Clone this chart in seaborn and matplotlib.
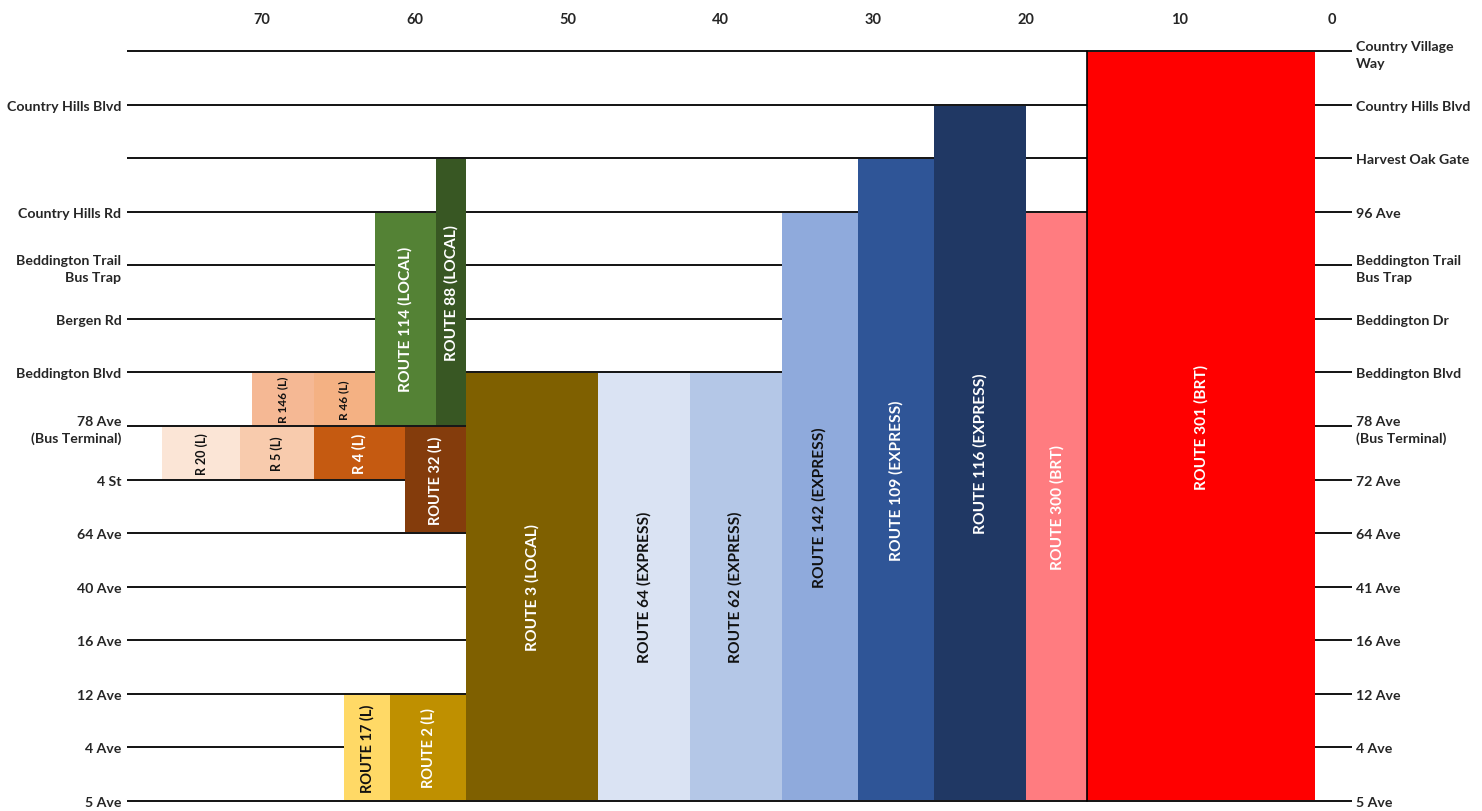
import matplotlib
matplotlib.use("Agg")
import matplotlib.pyplot as plt
import seaborn as sns

# stops, bottom (index 0) to top (index 14)
stops_left = ["5 Ave", "4 Ave", "12 Ave", "16 Ave", "40 Ave", "64 Ave", "4 St",
              "78 Ave\n(Bus Terminal)", "Beddington Blvd", "Bergen Rd",
              "Beddington Trail\nBus Trap", "Country Hills Rd", "",
              "Country Hills Blvd", ""]
stops_right = ["5 Ave", "4 Ave", "12 Ave", "16 Ave", "41 Ave", "64 Ave", "72 Ave",
               "78 Ave\n(Bus Terminal)", "Beddington Blvd", "Beddington Dr",
               "Beddington Trail\nBus Trap", "96 Ave", "Harvest Oak Gate",
               "Country Hills Blvd", "Country Village\nWay"]

# routes: x extent and the stops they run between
routes = ["ROUTE 301 (BRT)", "ROUTE 300 (BRT)", "ROUTE 116 (EXPRESS)",
          "ROUTE 109 (EXPRESS)", "ROUTE 142 (EXPRESS)", "ROUTE 62 (EXPRESS)",
          "ROUTE 64 (EXPRESS)", "ROUTE 3 (LOCAL)", "ROUTE 88 (LOCAL)",
          "ROUTE 114 (LOCAL)", "R 46 (L)", "R 146 (L)", "ROUTE 32 (L)",
          "R 4 (L)", "R 5 (L)", "R 20 (L)", "ROUTE 2 (L)", "ROUTE 17 (L)"]
x_from = [1.1, 16, 20, 26, 31, 36, 42, 48, 56.65, 58.6, 62.6, 66.6,
          56.65, 60.6, 66.6, 71.4, 56.65, 61.6]
x_to = [16, 20, 26, 31, 36, 42, 48, 56.65, 58.6, 62.6, 66.6, 70.6,
        60.6, 66.6, 71.4, 76.5, 61.6, 64.6]
stop_from = [0, 0, 0, 0, 0, 0, 0, 0, 7, 7, 7, 7, 5, 6, 6, 6, 0, 0]
stop_to = [14, 11, 13, 12, 11, 8, 8, 8, 12, 11, 8, 8, 7, 7, 7, 7, 2, 2]

colors = ["#FF0000", "#FF7C80", "#203864", "#2F5597", "#8FAADC", "#B4C7E7",
          "#DAE3F3", "#7F6000", "#385723", "#548235", "#F4B183", "#F5B894",
          "#843C0C", "#C55A11", "#F8CBAD", "#FBE5D6", "#BF9000", "#FFD966"]
text_colors = ["white", "white", "white", "white", "#111111", "#111111",
               "#111111", "white", "white", "white", "#111111", "#111111",
               "white", "white", "#111111", "#111111", "white", "#111111"]
text_sizes = [11.2, 11.2, 11.2, 11.2, 11.2, 11.2, 11.2, 11.2, 11.2, 11.2,
              8.5, 8.5, 10.5, 10.5, 9, 9, 10.5, 10.5]

sns.set_theme(style="white")
plt.rcParams["font.family"] = ["Lato", "DejaVu Sans"]
plt.rcParams["font.weight"] = "bold"

fig = plt.figure(figsize=(14.82, 8.12), dpi=100)
ax = fig.add_axes([127 / 1482, 6 / 812, (1352 - 127) / 1482, 758 / 812])

levels = list(range(len(stops_left)))
ax.set_xlim(78.8, -1.3)
ax.set_ylim(-0.075, 14.075)

# stop lines behind the bars
for lv in levels:
    ax.axhline(lv, color="black", lw=1.3, zorder=1)

inset = 0.018
for i, name in enumerate(routes):
    lo, hi = stop_from[i], stop_to[i]
    ax.bar(x_from[i], (hi - lo) - 2 * inset, width=x_to[i] - x_from[i],
           bottom=lo + inset, align="edge", color=colors[i], lw=0, zorder=2)
    ax.text((x_from[i] + x_to[i]) / 2, (lo + hi) / 2, name, rotation=90,
            ha="center", va="center", color=text_colors[i],
            fontsize=text_sizes[i], fontweight="bold", zorder=3)

# divider at the left edge of route 301
ax.plot([x_to[0], x_to[0]], [0, 14], color="black", lw=1.2, zorder=3)

ax.xaxis.tick_top()
ax.set_xticks(range(0, 80, 10))
ax.tick_params(axis="x", length=0, pad=15, labelsize=10.5)
ax.set_yticks(levels)
ax.set_yticklabels(stops_left)
ax.tick_params(axis="y", length=0, pad=4, labelsize=10.2)

ax2 = ax.twinx()
ax2.set_ylim(ax.get_ylim())
ax2.set_yticks(levels)
ax2.set_yticklabels(stops_right)
ax2.tick_params(axis="y", length=0, pad=3, labelsize=10.2)

for a in (ax, ax2):
    for s in a.spines.values():
        s.set_visible(False)
    a.grid(False)
for lab in ax.get_xticklabels() + ax.get_yticklabels() + ax2.get_yticklabels():
    lab.set_fontweight("bold")
    lab.set_linespacing(1.45)

fig.savefig("out.png", dpi=100)
